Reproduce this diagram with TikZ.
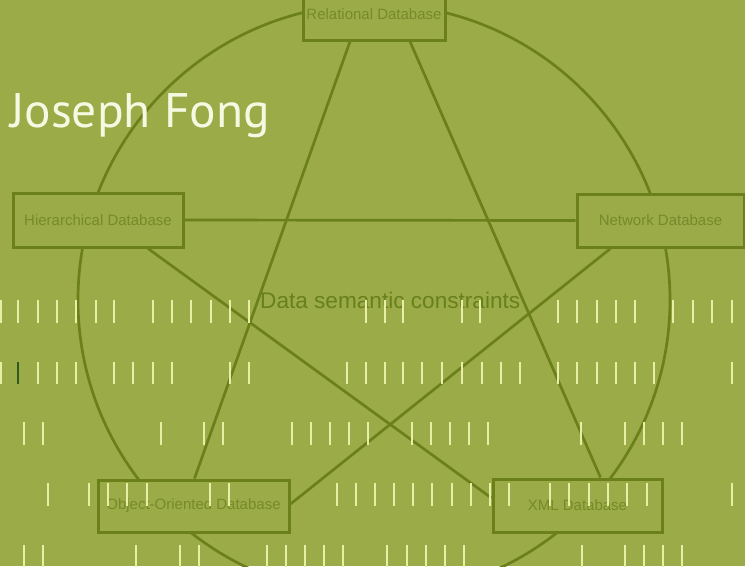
\documentclass[tikz,border=0pt]{standalone}
\usepackage{fontspec}
\setmainfont{Liberation Sans}
\newfontfamily\titlefont{PT Sans}
\pgfdeclarelayer{back}
\pgfdeclarelayer{bg}
\pgfsetlayers{back,bg,main}
\definecolor{bgc}{HTML}{9BAB47}
\definecolor{linec}{HTML}{6B801B}
\definecolor{boxtext}{HTML}{768A2B}
\definecolor{midtext}{HTML}{68801D}
\definecolor{dashc}{HTML}{E8EFA4}
\definecolor{darkdash}{HTML}{2E5A22}
\definecolor{titlec}{HTML}{F6F9E2}
\begin{document}
\begin{tikzpicture}[x=1pt,y=-1pt,
  dbbox/.style={draw=linec,line width=3pt,fill=bgc,text=boxtext,
    font=\fontsize{15}{17}\selectfont,inner sep=0pt},
  star/.style={draw=linec,line width=2.7pt},
  tick/.style={draw=dashc,line width=2.5pt},
]
\useasboundingbox (0,0) rectangle (745,566);
\begin{pgfonlayer}{back}
\fill[bgc] (0,0) rectangle (745,566);
\end{pgfonlayer}

% database boxes
\node[dbbox,minimum width=142pt,minimum height=52pt] (rel) at (374,14) {Relational Database};
\node[dbbox,minimum width=170pt,minimum height=54pt] (hier) at (98,220) {Hierarchical Database};
\node[dbbox,minimum width=167pt,minimum height=53pt] (net) at (660.5,220.5) {Network Database};
\node[dbbox,minimum width=191pt,minimum height=52pt] (oo) at (193.5,506) {Object-Oriented Database};
\node[dbbox,minimum width=169pt,minimum height=53pt] (xml) at (577.5,505.5) {XML Database};

% circle and pentagram
\begin{pgfonlayer}{bg}
\draw[star] (374,300) circle[radius=296pt];
\draw[star] ([xshift=-24pt]rel.south) -- ([xshift=1pt]oo.north);
\draw[star] ([xshift=36pt]rel.south) -- ([xshift=23pt]xml.north);
\draw[star] (hier.east) -- (net.west);
\draw[star] ([xshift=50pt]hier.south) -- ([yshift=7.5pt]xml.west);
\draw[star] ([xshift=-50pt]net.south) -- ([yshift=2pt]oo.east);
\end{pgfonlayer}

% texts
\node[anchor=base west,inner sep=0pt,text=titlec,xscale=1.02,font=\titlefont\fontsize{48.5}{50}\selectfont] (title) at (10,127) {Joseph Fong};
\node[anchor=base west,inner sep=0pt,text=midtext,font=\fontsize{22.6}{24}\selectfont] (dsc) at (260,308) {Data semantic constraints};

% rows of short dashes
\foreach \x in {1,18,38,57,76,96,114,153,172,191,211,230,249,366,385,403,462,480,558,577,597,616,635,673,693,712,732}
  \draw[tick] (\x,300) -- (\x,323);
\foreach \x in {1,38,57,76,114,133,153,172,230,249,347,366,385,403,422,442,462,482,501,520,558,577,597,616,635,654,732}
  \draw[tick] (\x,362) -- (\x,384);
\draw[tick,draw=darkdash] (18,362) -- (18,384);
\foreach \x in {24,43,161,204,223,292,311,330,349,368,412,431,450,469,488,581,625,644,663,682}
  \draw[tick] (\x,422) -- (\x,445);
\foreach \x in {48,89,108,127,147,210,229,337,356,375,394,413,432,452,471,490,509,550,569,589,608,627,647,732}
  \draw[tick] (\x,483) -- (\x,506);
\foreach \x in {24,43,136,180,199,267,286,305,324,343,387,407,426,445,464,582,625,644,663,682}
  \draw[tick] (\x,545) -- (\x,568);
\end{tikzpicture}
\end{document}
